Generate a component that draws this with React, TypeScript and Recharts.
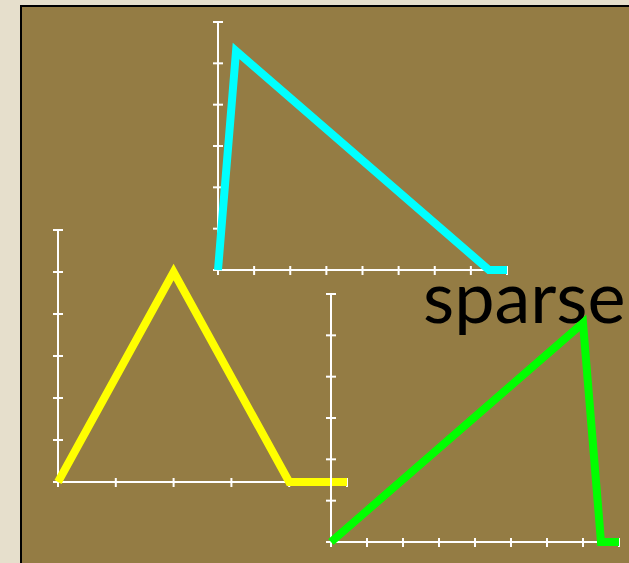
import { LineChart, Line, XAxis, YAxis } from 'recharts';

// three sparse series, x is numeric position on the axis
const cyanX = [0, 0.5, 7.5, 8];
const cyanY = [0, 5.3, 0, 0];
const yellowX = [0, 2, 4, 5];
const yellowY = [0, 5, 0, 0];
const greenX = [0, 7, 7.5, 8];
const greenY = [0, 5.3, 0, 0];

const xTicks8 = [0, 1, 2, 3, 4, 5, 6, 7, 8];
const xTicks5 = [0, 1, 2, 3, 4, 5];
const yTicks = [0, 1, 2, 3, 4, 5, 6];

const title = 'sparse';

const toRows = (xs, ys) => xs.map((x, i) => ({ x, y: ys[i] }));

const XTick = (props) => {
  const { x, y } = props;
  return <line x1={x} x2={x} y1={y - 4} y2={y + 5} stroke="#fff" strokeWidth={2} />;
};

const YTick = (props) => {
  const { x, y } = props;
  return <line x1={x - 5} x2={x + 5} y1={y} y2={y} stroke="#fff" strokeWidth={2} />;
};

const M = 12;

// axes in one chart underneath, the line in a second chart on top
const Spark = ({ left, top, w, h, xs, ys, xTicks, xMax, color }) => {
  const data = toRows(xs, ys);
  const W = w + 2 * M;
  const H = h + 2 * M;
  return (
    <div style={{ position: 'absolute', left: left - M, top: top - M, width: W, height: H }}>
      <div style={{ position: 'absolute', left: 0, top: 0 }}>
        <LineChart width={W} height={H} data={data} margin={{ top: M, right: M, bottom: M - 1, left: M - 1 }}>
          <XAxis
            type="number"
            dataKey="x"
            domain={[0, xMax]}
            ticks={xTicks}
            height={1}
            tickSize={0}
            tickMargin={0}
            tickLine={false}
            axisLine={{ stroke: '#fff', strokeWidth: 2 }}
            tick={XTick}
          />
          <YAxis
            type="number"
            dataKey="y"
            domain={[0, 6]}
            ticks={yTicks}
            width={1}
            tickSize={0}
            tickMargin={0}
            tickLine={false}
            axisLine={{ stroke: '#fff', strokeWidth: 2 }}
            tick={YTick}
          />
          <Line type="linear" dataKey="y" stroke="none" dot={false} isAnimationActive={false} />
        </LineChart>
      </div>
      <div style={{ position: 'absolute', left: 0, top: 0 }}>
        <LineChart width={W} height={H} data={data} margin={{ top: M, right: M, bottom: M, left: M }}>
          <XAxis type="number" dataKey="x" domain={[0, xMax]} hide />
          <YAxis type="number" domain={[0, 6]} hide />
          <Line type="linear" dataKey="y" stroke={color} strokeWidth={8} dot={false} isAnimationActive={false} />
        </LineChart>
      </div>
    </div>
  );
};

export default function App() {
  return (
    <div style={{ position: 'fixed', left: 0, top: 0, width: 629, height: 563, overflow: 'hidden', background: '#e6dfcc' }}>
      <div style={{ position: 'absolute', left: 20, top: 5, width: 700, height: 700, background: '#947c44', border: '2px solid #000' }} />
      <Spark left={218} top={22} w={289} h={248} xs={cyanX} ys={cyanY} xTicks={xTicks8} xMax={8} color="#00ffff" />
      <svg width={629} height={563} style={{ position: 'absolute', left: 0, top: 0 }}>
        <text x={423} y={323} fontFamily="Lato" fontSize={72} fill="#000">{title}</text>
      </svg>
      <Spark left={58} top={230} w={289} h={252} xs={yellowX} ys={yellowY} xTicks={xTicks5} xMax={5} color="#ffff00" />
      <Spark left={331} top={294} w={288} h={248} xs={greenX} ys={greenY} xTicks={xTicks8} xMax={8} color="#00ff00" />
    </div>
  );
}
